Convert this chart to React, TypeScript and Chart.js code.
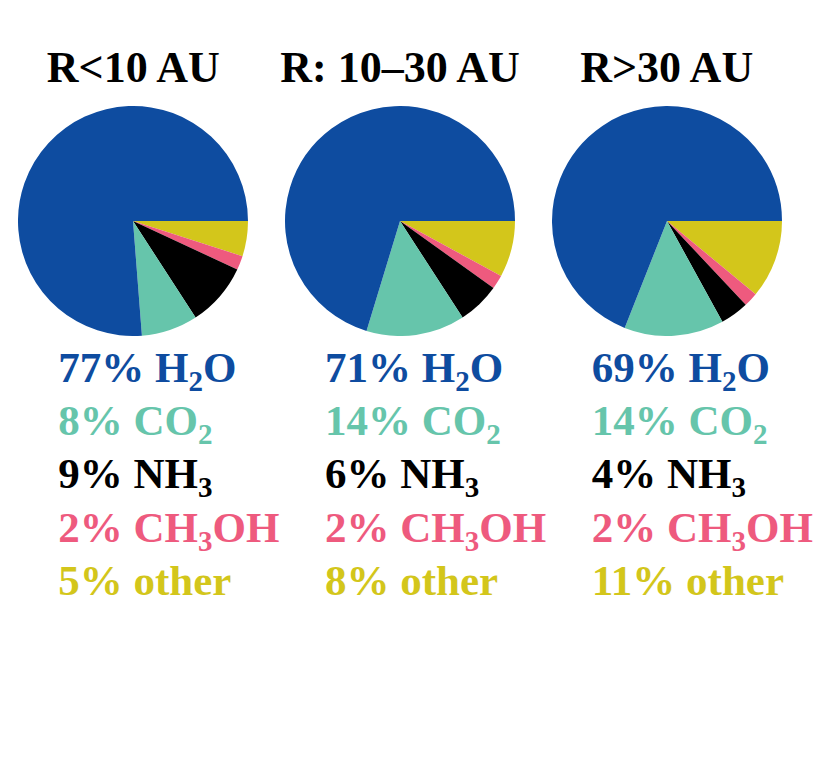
import React, { useEffect, useRef } from "react";
import { Chart, registerables } from "chart.js";

Chart.register(...registerables);

const regions = ["R<10 AU", "R: 10\u201330 AU", "R>30 AU"];
// species: [main text, subscript, trailing text]
const speciesNames: [string, string, string][] = [
  ["H", "2", "O"],
  ["CO", "2", ""],
  ["NH", "3", ""],
  ["CH", "3", "OH"],
  ["other", "", ""],
];
const speciesColors = ["#0e4ca0", "#66c5ab", "#000000", "#ee5a7e", "#d3c61b"];
const h2o = [77, 71, 69];
const co2 = [8, 14, 14];
const nh3 = [9, 6, 4];
const ch3oh = [2, 2, 2];
const other = [5, 8, 11];

const FONT = '"Liberation Serif", "Times New Roman", serif';
const centersX = [133.3, 400, 666.7];
const centerY = 220.5;
const R = 115;

function Pie({ idx }: { idx: number }) {
  const ref = useRef<HTMLCanvasElement>(null);
  useEffect(() => {
    if (!ref.current) return;
    const vals = [h2o[idx], co2[idx], nh3[idx], ch3oh[idx], other[idx]];
    // drawn clockwise from 3 o'clock: reverse order to mimic counter-clockwise layout
    const order = [4, 3, 2, 1, 0];
    const chart = new Chart(ref.current, {
      type: "pie",
      data: {
        labels: order.map((i) => speciesNames[i].join("")),
        datasets: [
          {
            data: order.map((i) => vals[i]),
            backgroundColor: order.map((i) => speciesColors[i]),
            borderWidth: 0,
          },
        ],
      },
      options: {
        animation: false,
        responsive: false,
        rotation: 90,
        layout: { padding: 0 },
        plugins: { legend: { display: false }, tooltip: { enabled: false } },
      },
    });
    return () => chart.destroy();
  }, [idx]);
  return (
    <canvas
      ref={ref}
      width={2 * R}
      height={2 * R}
      style={{
        position: "absolute",
        left: centersX[idx] - R,
        top: centerY - R,
        width: 2 * R,
        height: 2 * R,
      }}
    />
  );
}

export default function App() {
  useEffect(() => {
    document.body.style.margin = "0";
  }, []);
  const labelSize = 43;
  const titleSize = 44;
  const baselines = [381.7, 435, 488.3, 541.6, 595];
  return (
    <div
      style={{
        position: "relative",
        width: 830,
        height: 757,
        background: "#ffffff",
        fontFamily: FONT,
        fontWeight: "bold",
        overflow: "hidden",
      }}
    >
      {regions.map((t, i) => (
        <div
          key={"t" + i}
          style={{
            position: "absolute",
            left: centersX[i] - 150,
            width: 300,
            textAlign: "center",
            top: 83 - 0.8375 * titleSize,
            fontSize: titleSize,
            lineHeight: `${titleSize}px`,
            color: "#000",
            whiteSpace: "nowrap",
          }}
        >
          {t}
        </div>
      ))}
      {regions.map((_, i) => (
        <Pie key={"p" + i} idx={i} />
      ))}
      {regions.map((_, i) => {
        const vals = [h2o[i], co2[i], nh3[i], ch3oh[i], other[i]];
        return speciesNames.map((s, j) => (
          <div
            key={"l" + i + "-" + j}
            style={{
              position: "absolute",
              left: centersX[i] - 75,
              top: baselines[j] - 0.8375 * labelSize,
              fontSize: labelSize,
              lineHeight: `${labelSize}px`,
              color: speciesColors[j],
              whiteSpace: "nowrap",
            }}
          >
            {vals[j]}% {s[0]}
            {s[1] ? (
              <span style={{ fontSize: 29, verticalAlign: -9, lineHeight: 0 }}>{s[1]}</span>
            ) : null}
            {s[2]}
          </div>
        ));
      })}
    </div>
  );
}
